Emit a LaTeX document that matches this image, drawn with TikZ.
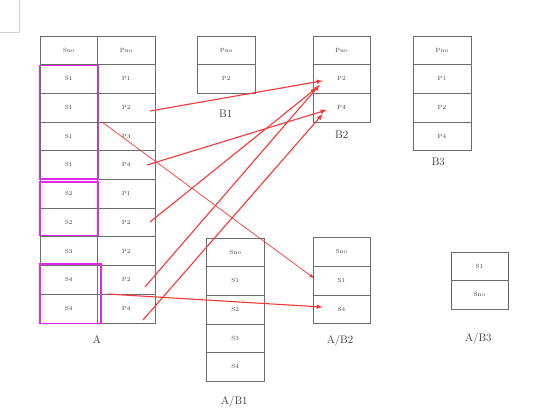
\documentclass[tikz,border=0pt]{standalone}
\usetikzlibrary{positioning}
\definecolor{grpmag}{RGB}{225,40,235}
\definecolor{arrred}{RGB}{250,55,55}
\begin{document}
\begin{tikzpicture}[x=1pt,y=-1pt,>=latex,
        cell/.style={draw=gray!85!black,minimum width=57.5pt,minimum height=28.7pt,inner sep=0pt,outer sep=0pt,
          font=\fontsize{6}{7}\selectfont,text=black!75},
        tlabel/.style={font=\fontsize{11}{12}\selectfont,text=black!80},
        grp/.style={draw=grpmag,line width=1.6pt},
        arr/.style={->,arrred,line width=1.1pt}]
        \useasboundingbox (0,0) rectangle (554,413);
        \draw[gray!35] (19,0)--(19,32)--(0,32);
        % A
        \node[cell] (a-1-1) at (68.75,50.05) {Sno};
        \node[cell,below=0pt of a-1-1] (a-2-1) {S1};
        \node[cell,below=0pt of a-2-1] (a-3-1) {S1};
        \node[cell,below=0pt of a-3-1] (a-4-1) {S1};
        \node[cell,below=0pt of a-4-1] (a-5-1) {S1};
        \node[cell,below=0pt of a-5-1] (a-6-1) {S2};
        \node[cell,below=0pt of a-6-1] (a-7-1) {S2};
        \node[cell,below=0pt of a-7-1] (a-8-1) {S3};
        \node[cell,below=0pt of a-8-1] (a-9-1) {S4};
        \node[cell,below=0pt of a-9-1] (a-10-1) {S4};
        \node[cell,right=0pt of a-1-1] (a-1-2) {Pno};
        \node[cell,right=0pt of a-2-1] (a-2-2) {P1};
        \node[cell,right=0pt of a-3-1] (a-3-2) {P2};
        \node[cell,right=0pt of a-4-1] (a-4-2) {P3};
        \node[cell,right=0pt of a-5-1] (a-5-2) {P4};
        \node[cell,right=0pt of a-6-1] (a-6-2) {P1};
        \node[cell,right=0pt of a-7-1] (a-7-2) {P2};
        \node[cell,right=0pt of a-8-1] (a-8-2) {P2};
        \node[cell,right=0pt of a-9-1] (a-9-2) {P2};
        \node[cell,right=0pt of a-10-1] (a-10-2) {P4};
        \node[tlabel] (la) at (97,340) {A};
        % B1, B2, B3
        \node[cell] (b1-1) at (226.2,50.05) {Pno};
        \node[cell,below=0pt of b1-1] (b1-2) {P2};
        \node[tlabel] (lb1) at (225.7,113.3) {B1};
        \node[cell] (b2-1) at (341.5,50.05) {Pno};
        \node[cell,below=0pt of b2-1] (b2-2) {P2};
        \node[cell,below=0pt of b2-2] (b2-3) {P4};
        \node[tlabel] (lb2) at (341.7,134.3) {B2};
        \node[cell] (b3-1) at (442,50.05) {Pno};
        \node[cell,below=0pt of b3-1] (b3-2) {P1};
        \node[cell,below=0pt of b3-2] (b3-3) {P2};
        \node[cell,below=0pt of b3-3] (b3-4) {P4};
        \node[tlabel] (lb3) at (438.3,161.7) {B3};
        % A/B1, A/B2, A/B3
        \node[cell] (ab1-1) at (235.3,252.05) {Sno};
        \node[cell,below=0pt of ab1-1] (ab1-2) {S1};
        \node[cell,below=0pt of ab1-2] (ab1-3) {S2};
        \node[cell,below=0pt of ab1-3] (ab1-4) {S3};
        \node[cell,below=0pt of ab1-4] (ab1-5) {S4};
        \node[tlabel] (lab1) at (234.3,401.7) {A/B1};
        \node[cell] (ab2-1) at (341.5,251.65) {Sno};
        \node[cell,below=0pt of ab2-1] (ab2-2) {S1};
        \node[cell,below=0pt of ab2-2] (ab2-3) {S4};
        \node[tlabel] (lab2) at (340,341) {A/B2};
        \node[cell] (ab3-1) at (479.5,266.05) {S1};
        \node[cell,below=0pt of ab3-1] (ab3-2) {Sno};
        \node[tlabel] (lab3) at (478.3,338.3) {A/B3};
        % groups
        \draw[grp] ([shift={(-0.7pt,-1pt)}]a-2-1.north west) rectangle ([shift={(0.8pt,0pt)}]a-5-1.south east);
        \draw[grp] ([shift={(0pt,-3pt)}]a-6-1.north west) rectangle ([shift={(0.2pt,1pt)}]a-7-1.south east);
        \draw[grp] ([shift={(0pt,1.5pt)}]a-9-1.north west) rectangle ([shift={(3.2pt,-0.6pt)}]a-10-1.south east);
        % arrows
        \coordinate (s1) at (150,111);
        \coordinate (s2) at (147,165);
        \coordinate (s3) at (150,222);
        \coordinate (s4) at (145,287);
        \coordinate (s5) at (143,320);
        \coordinate (s6) at (102,122);
        \coordinate (s7) at (107,294);
        \draw[arr] (s1)--([xshift=10pt,yshift=-2pt]b2-2.west);
        \draw[arr] (s2)--([xshift=14pt,yshift=-2.5pt]b2-3.west);
        \draw[arr] (s3)--([xshift=4pt,yshift=-9pt]b2-2.west);
        \draw[arr] (s4)--([xshift=7pt,yshift=-6pt]b2-2.west);
        \draw[arr] (s5)--([xshift=10pt,yshift=-6.5pt]b2-3.west);
        \draw[arr,line width=0.7pt] (s6)--([xshift=1.5pt,yshift=2pt]ab2-2.west);
        \draw[arr] (s7)--([xshift=10pt,yshift=2pt]ab2-3.west);
\end{tikzpicture}
\end{document}
